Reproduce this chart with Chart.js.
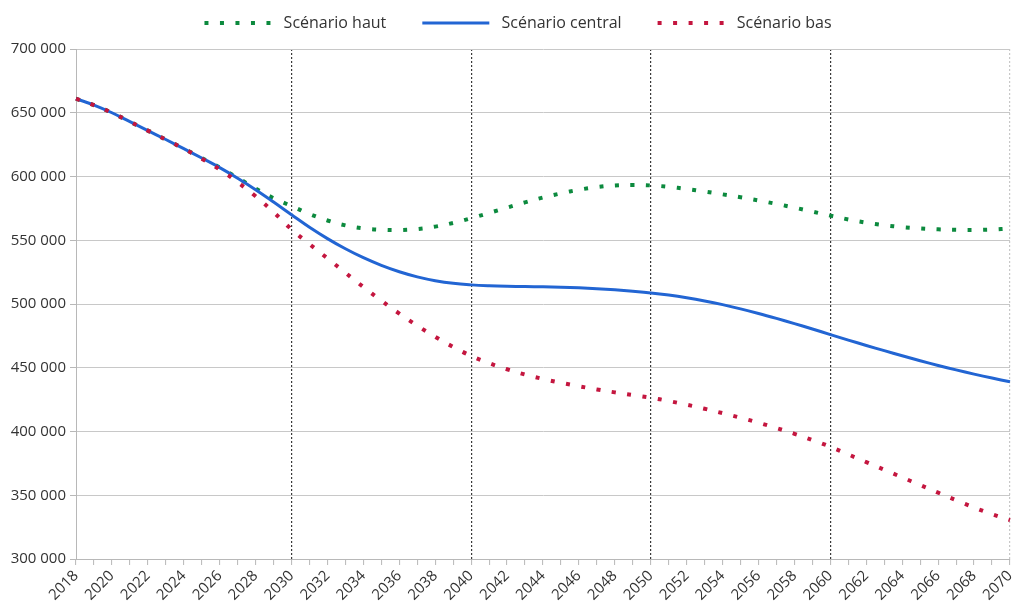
<!DOCTYPE html>
<html>
<head>
<meta charset="utf-8">
<script src="https://cdn.jsdelivr.net/npm/chart.js@4.4.1/dist/chart.umd.min.js"></script>
<style>
  html, body { margin: 0; padding: 0; background: #fff; }
  #wrap { width: 1013px; height: 612px; }
</style>
</head>
<body>
<div id="wrap"><canvas id="popChart"></canvas></div>
<script>
// years on the x axis
var years = [2018, 2019, 2020, 2021, 2022, 2023, 2024, 2025, 2026, 2027, 2028, 2029, 2030,
    2031, 2032, 2033, 2034, 2035, 2036, 2037, 2038, 2039, 2040, 2041, 2042, 2043, 2044,
    2045, 2046, 2047, 2048, 2049, 2050, 2051, 2052, 2053, 2054, 2055, 2056, 2057, 2058,
    2059, 2060, 2061, 2062, 2063, 2064, 2065, 2066, 2067, 2068, 2069, 2070];

// Scénario haut
var valuesHaut = [661000, 656000, 650000, 643000, 636000, 629000, 621800, 614500, 607000, 599000,
    590500, 583000, 576800, 570600, 565500, 561700, 559300, 558200, 558000, 558800, 560700,
    563600, 567300, 571400, 575600, 579700, 583500, 586800, 589600, 591700, 593000, 593400,
    593000, 591900, 590200, 588200, 586000, 583700, 581200, 578500, 575600, 572500, 569300,
    566300, 563800, 561800, 560300, 559300, 558600, 558200, 558100, 558400, 559200];

// Scénario central
var valuesCentral = [661000, 656000, 650000, 643000, 636000, 629000, 621800, 614500, 607000, 598700,
    589700, 580000, 570000, 560200, 551300, 543300, 536300, 530300, 525300, 521300, 518300,
    516200, 515000, 514300, 513900, 513700, 513500, 513200, 512700, 512000, 511100, 510000,
    508700, 507000, 504900, 502400, 499500, 496200, 492600, 488700, 484600, 480400, 476000,
    471700, 467500, 463400, 459400, 455500, 451800, 448300, 445000, 441900, 439000];

// Scénario bas
var valuesBas = [661000, 656000, 650000, 643000, 636000, 629000, 621800, 614000, 605500, 595500,
    584500, 572000, 558500, 547000, 535800, 524500, 513300, 502600, 492500, 483000, 474300,
    466300, 459300, 453600, 448800, 444700, 441200, 438200, 435500, 433000, 430700, 428600,
    426500, 423900, 421000, 417800, 414400, 410800, 406900, 402700, 398200, 393300, 388000,
    382000, 376000, 370000, 364000, 358000, 352000, 346100, 340400, 335100, 330500];

// years with a dashed vertical line
var markedYears = [2030, 2040, 2050, 2060];

var fontFamily = "'Open Sans', 'Noto Sans', sans-serif";

function formatThousands(v) {
    var s = String(Math.round(v));
    return s.replace(/\B(?=(\d{3})+(?!\d))/g, '\u00a0');
}

// extra room under the legend, and legend nudged right
var legendGap = {
    id: 'legendGap',
    afterInit: function (chart) {
        var fit = chart.legend.fit;
        chart.legend.fit = function () {
            fit.call(this);
            this.height += 8;
        };
    },
    afterLayout: function (chart) {
        chart.legend.left += 26;
    }
};

//================================================================ Chart =====

var ctx = document.getElementById('popChart').getContext('2d');
var config = {
    type: 'line',
    data: {
        labels: years,
        datasets: [{
            label: 'Scénario haut',
            data: valuesHaut,
            borderColor: '#0c8a3e',
            backgroundColor: '#0c8a3e',
            borderWidth: 4,
            borderDash: [4, 11.5],
            pointRadius: 0,
            tension: 0.4,
            fill: false,
            order: 2
        }, {
            label: 'Scénario central',
            data: valuesCentral,
            borderColor: '#2265d3',
            backgroundColor: '#2265d3',
            borderWidth: 3,
            pointRadius: 0,
            tension: 0.4,
            fill: false,
            order: 1
        }, {
            label: 'Scénario bas',
            data: valuesBas,
            borderColor: '#c4163f',
            backgroundColor: '#c4163f',
            borderWidth: 4,
            borderDash: [4, 11.5],
            pointRadius: 0,
            tension: 0.4,
            fill: false,
            order: 0
        }]
    },
    options: {
        responsive: true,
        maintainAspectRatio: false,
        animation: false,
        layout: {
            padding: { top: -21, right: 3, bottom: 0, left: 0 }
        },
        plugins: {
            legend: {
                position: 'top',
                labels: {
                    usePointStyle: true,
                    pointStyle: 'line',
                    pointStyleWidth: 67,
                    padding: 36,
                    color: '#333',
                    font: { family: fontFamily, size: 16 },
                    sort: (a, b) => a.datasetIndex - b.datasetIndex,
                    generateLabels: (chart) => {
                        var items = Chart.defaults.plugins.legend.labels.generateLabels(chart);
                        items.forEach((item) => {
                            var ds = chart.data.datasets[item.datasetIndex];
                            item.text = ' ' + item.text;
                            item.lineDash = ds.borderDash || [];
                            item.lineWidth = ds.borderWidth;
                            item.strokeStyle = ds.borderColor;
                        });
                        return items;
                    }
                }
            },
            tooltip: { enabled: false }
        },
        scales: {
            x: {
                offset: false,
                grid: {
                    color: (c) => {
                        var y = years[c.index];
                        if (markedYears.indexOf(y) >= 0) return '#3a3a3a';
                        if (y === 2070) return '#c8c8c8';
                        return 'rgba(0,0,0,0)';
                    },
                    lineWidth: 1.2,
                    tickColor: '#b8b8b8',
                    tickLength: 6,
                    tickWidth: 1,
                    tickBorderDash: []
                },
                border: { color: '#b8b8b8', dash: [2, 2] },
                ticks: {
                    autoSkip: false,
                    minRotation: 45,
                    maxRotation: 45,
                    padding: 2,
                    color: '#333',
                    font: { family: fontFamily, size: 15 },
                    callback: function (value) {
                        var y = this.getLabelForValue(value);
                        return y % 2 === 0 ? String(y) : '';
                    }
                },
                afterFit: (scale) => {
                    scale.height = 53;
                    scale.paddingRight = 0;
                }
            },
            y: {
                min: 300000,
                max: 700000,
                grid: {
                    color: '#c8c8c8',
                    tickColor: '#b8b8b8',
                    tickLength: 6
                },
                border: { color: '#b8b8b8' },
                ticks: {
                    stepSize: 50000,
                    padding: 4,
                    color: '#333',
                    font: { family: fontFamily, size: 15 },
                    callback: (v) => formatThousands(v)
                },
                afterFit: (scale) => { scale.width = 76; }
            }
        }
    },
    plugins: [legendGap]
};

var popChart = new Chart(ctx, config);
</script>
</body>
</html>
